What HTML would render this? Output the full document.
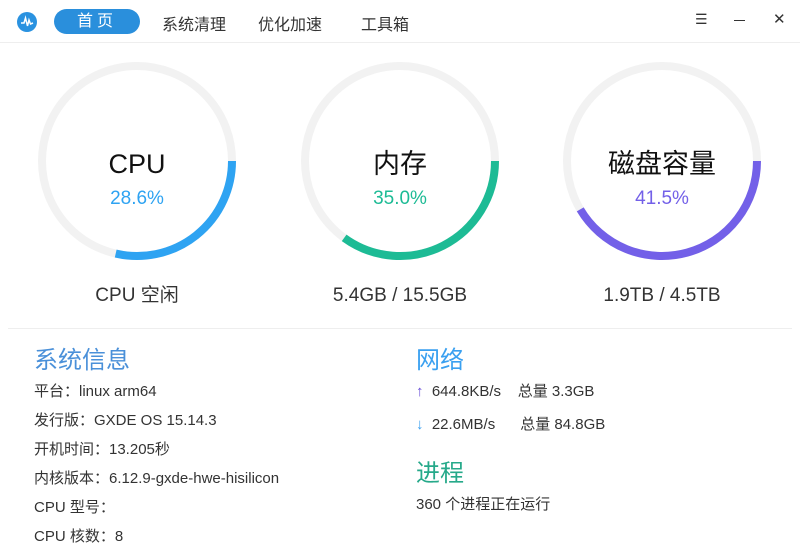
<!DOCTYPE html>
<html><head><meta charset="utf-8"><style>
body{margin:0;width:800px;height:560px;background:#fff;font-family:"Liberation Sans","Noto Sans CJK SC",sans-serif;overflow:hidden;position:relative;color:#333}
.t{position:absolute;white-space:nowrap}
.s{font-size:15px}
</style></head><body>
<div style="position:absolute;left:0;top:0;width:800px;height:42px;border-bottom:1px solid #eee">
<svg style="position:absolute;left:17px;top:12px" width="20" height="20"><circle cx="10" cy="10" r="10" fill="#2a92e0"/><polyline points="4,11 7,11 8.5,6 10.5,14 12,8 13.5,12 16,11" fill="none" stroke="#fff" stroke-width="1.5"/></svg>
<div class="t" style="left:54px;top:9px;width:86px;height:25px;background:#2a8fdc;border-radius:13px;color:#fff;font-size:16px;line-height:25px;text-align:center;letter-spacing:4px">首页</div>
<div class="t" style="left:162px;top:11px;font-size:16px">系统清理</div>
<div class="t" style="left:258px;top:11px;font-size:16px">优化加速</div>
<div class="t" style="left:361px;top:11px;font-size:16px">工具箱</div>
<div class="t" style="left:695px;top:11px;font-size:14px">☰</div>
<div class="t" style="left:734px;top:20px;width:11px;height:1px;background:#333"></div>
<div class="t" style="left:773px;top:10px;font-size:15px">✕</div>
</div>
<svg id="g" style="position:absolute;left:0;top:0" width="800" height="330"></svg>
<div class="t" style="left:8px;top:328px;width:784px;height:1px;background:#eee"></div>
<div class="t" style="left:34px;top:340px;font-size:24px;color:#4a90d9">系统信息</div>
<div class="t s" style="left:34px;top:380px">平台：linux arm64</div>
<div class="t s" style="left:34px;top:409px">发行版：GXDE OS 15.14.3</div>
<div class="t s" style="left:34px;top:438px">开机时间：13.205秒</div>
<div class="t s" style="left:34px;top:467px">内核版本：6.12.9-gxde-hwe-hisilicon</div>
<div class="t s" style="left:34px;top:496px">CPU 型号：</div>
<div class="t s" style="left:34px;top:525px">CPU 核数：8</div>
<div class="t" style="left:416px;top:340px;font-size:24px;color:#3aa0f0">网络</div>
<div class="t s" style="left:416px;top:380px"><span style="color:#6a4fd8">↑</span>&nbsp; 644.8KB/s &nbsp;&nbsp; 总量 3.3GB</div>
<div class="t s" style="left:416px;top:413px"><span style="color:#3aa0f0">↓</span>&nbsp; 22.6MB/s &nbsp;&nbsp;&nbsp;&nbsp; 总量 84.8GB</div>
<div class="t" style="left:416px;top:453px;font-size:24px;color:#26a98a">进程</div>
<div class="t s" style="left:416px;top:493px">360 个进程正在运行</div>
<script>
const labels=["CPU","内存","磁盘容量"];
const percents=[28.6,35.0,41.5];
const captions=["CPU 空闲","5.4GB / 15.5GB","1.9TB / 4.5TB"];
const colors=["#2ea3f2","#1dbb95","#7360e8"];
const cxs=[137,400,662];
const svg=document.getElementById('g');const NS="http://www.w3.org/2000/svg";
function mk(t,a){const e=document.createElementNS(NS,t);for(const k in a)e.setAttribute(k,a[k]);svg.appendChild(e);return e;}
const cy=161,r=95;
percents.forEach((p,i)=>{
const cx=cxs[i];
const bg=mk('circle',{cx:cx,cy:cy,r:r,fill:'none',stroke:'#f2f2f2','stroke-width':8});


const a=p/100*2*Math.PI;const x=cx+r*Math.cos(a),y=cy+r*Math.sin(a);
const arc=mk('path',{d:`M${cx+r},${cy} A${r},${r} 0 ${p>50?1:0} 1 ${x},${y}`,fill:'none',stroke:colors[i],'stroke-width':8});


const t=mk('text',{x:cx,y:173,'text-anchor':'middle','font-size':27,fill:'#111'});t.textContent=labels[i];


const v=mk('text',{x:cx,y:204,'text-anchor':'middle','font-size':19,fill:colors[i]});v.textContent=p.toFixed(1)+'%';


const c=mk('text',{x:cx,y:301,'text-anchor':'middle','font-size':19,fill:'#333'});c.textContent=captions[i];


});
</script>
</body></html>
